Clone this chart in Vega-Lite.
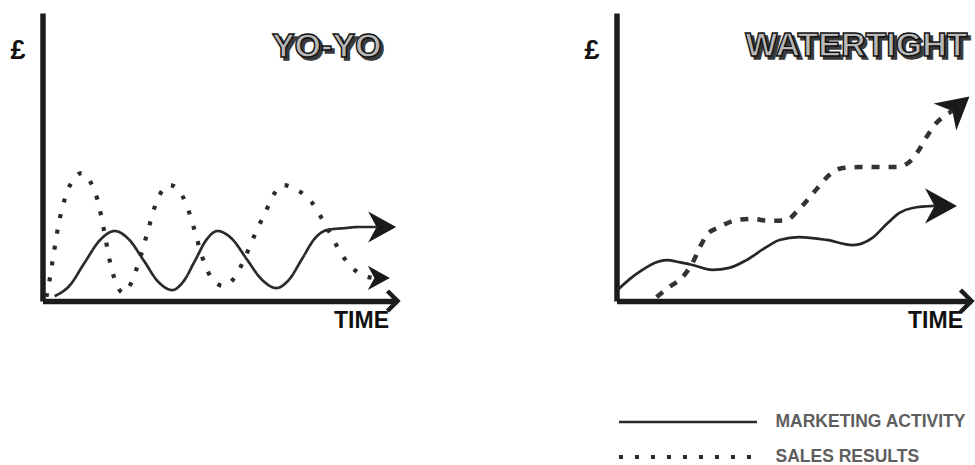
{
  "$schema": "https://vega.github.io/schema/vega-lite/v6.json",
  "padding": {"left": 9.5, "top": 13, "right": 0, "bottom": 0},
  "bounds": "flush",
  "spacing": 219,
  "background": "white",
  "config": {
    "view": {"stroke": null},
    "axis": {"domainColor": "#1c1c1c", "domainWidth": 5.5, "ticks": false, "labels": false, "grid": false, "titleFont": "Liberation Sans", "titleFontWeight": "bold", "titleColor": "#111111"},
    "axisX": {"titleFontSize": 23, "titleAlign": "right", "titleBaseline": "middle", "titleX": 346, "titleY": 19, "titleAngle": 0},
    "axisY": {"titleFontSize": 27, "titleAlign": "center", "titleBaseline": "middle", "titleX": -25, "titleY": 37, "titleAngle": 0}
  },
  "datasets": {
    "curves": [
      {"panel": "YO-YO", "series": "MARKETING ACTIVITY", "t": 3.4, "v": 1.7},
      {"panel": "YO-YO", "series": "MARKETING ACTIVITY", "t": 7.6, "v": 5.3},
      {"panel": "YO-YO", "series": "MARKETING ACTIVITY", "t": 11.8, "v": 13.2},
      {"panel": "YO-YO", "series": "MARKETING ACTIVITY", "t": 16.1, "v": 21.0},
      {"panel": "YO-YO", "series": "MARKETING ACTIVITY", "t": 20.3, "v": 24.3},
      {"panel": "YO-YO", "series": "MARKETING ACTIVITY", "t": 24.4, "v": 21.3},
      {"panel": "YO-YO", "series": "MARKETING ACTIVITY", "t": 28.5, "v": 14.1},
      {"panel": "YO-YO", "series": "MARKETING ACTIVITY", "t": 32.5, "v": 6.8},
      {"panel": "YO-YO", "series": "MARKETING ACTIVITY", "t": 36.6, "v": 3.8},
      {"panel": "YO-YO", "series": "MARKETING ACTIVITY", "t": 39.7, "v": 6.8},
      {"panel": "YO-YO", "series": "MARKETING ACTIVITY", "t": 43.0, "v": 14.1},
      {"panel": "YO-YO", "series": "MARKETING ACTIVITY", "t": 46.2, "v": 21.3},
      {"panel": "YO-YO", "series": "MARKETING ACTIVITY", "t": 49.3, "v": 24.3},
      {"panel": "YO-YO", "series": "MARKETING ACTIVITY", "t": 53.5, "v": 21.4},
      {"panel": "YO-YO", "series": "MARKETING ACTIVITY", "t": 57.6, "v": 14.4},
      {"panel": "YO-YO", "series": "MARKETING ACTIVITY", "t": 61.8, "v": 7.4},
      {"panel": "YO-YO", "series": "MARKETING ACTIVITY", "t": 65.9, "v": 4.5},
      {"panel": "YO-YO", "series": "MARKETING ACTIVITY", "t": 69.5, "v": 7.5},
      {"panel": "YO-YO", "series": "MARKETING ACTIVITY", "t": 73.1, "v": 14.6},
      {"panel": "YO-YO", "series": "MARKETING ACTIVITY", "t": 76.7, "v": 21.7},
      {"panel": "YO-YO", "series": "MARKETING ACTIVITY", "t": 80.3, "v": 24.7},
      {"panel": "YO-YO", "series": "MARKETING ACTIVITY", "t": 85.1, "v": 25.3},
      {"panel": "YO-YO", "series": "MARKETING ACTIVITY", "t": 89.3, "v": 25.7},
      {"panel": "YO-YO", "series": "MARKETING ACTIVITY", "t": 94.1, "v": 25.7},
      {"panel": "YO-YO", "series": "SALES RESULTS", "t": 1.1, "v": 1.4},
      {"panel": "YO-YO", "series": "SALES RESULTS", "t": 2.0, "v": 7.3},
      {"panel": "YO-YO", "series": "SALES RESULTS", "t": 3.1, "v": 16.0},
      {"panel": "YO-YO", "series": "SALES RESULTS", "t": 4.5, "v": 26.4},
      {"panel": "YO-YO", "series": "SALES RESULTS", "t": 6.2, "v": 35.1},
      {"panel": "YO-YO", "series": "SALES RESULTS", "t": 8.2, "v": 41.3},
      {"panel": "YO-YO", "series": "SALES RESULTS", "t": 11.0, "v": 44.4},
      {"panel": "YO-YO", "series": "SALES RESULTS", "t": 13.5, "v": 41.3},
      {"panel": "YO-YO", "series": "SALES RESULTS", "t": 15.5, "v": 35.1},
      {"panel": "YO-YO", "series": "SALES RESULTS", "t": 17.2, "v": 25.3},
      {"panel": "YO-YO", "series": "SALES RESULTS", "t": 18.9, "v": 14.2},
      {"panel": "YO-YO", "series": "SALES RESULTS", "t": 20.6, "v": 6.6},
      {"panel": "YO-YO", "series": "SALES RESULTS", "t": 22.8, "v": 2.8},
      {"panel": "YO-YO", "series": "SALES RESULTS", "t": 25.1, "v": 6.6},
      {"panel": "YO-YO", "series": "SALES RESULTS", "t": 27.3, "v": 14.2},
      {"panel": "YO-YO", "series": "SALES RESULTS", "t": 29.6, "v": 24.0},
      {"panel": "YO-YO", "series": "SALES RESULTS", "t": 31.8, "v": 33.3},
      {"panel": "YO-YO", "series": "SALES RESULTS", "t": 33.8, "v": 38.5},
      {"panel": "YO-YO", "series": "SALES RESULTS", "t": 35.8, "v": 40.3},
      {"panel": "YO-YO", "series": "SALES RESULTS", "t": 38.3, "v": 38.5},
      {"panel": "YO-YO", "series": "SALES RESULTS", "t": 40.6, "v": 33.3},
      {"panel": "YO-YO", "series": "SALES RESULTS", "t": 42.8, "v": 24.7},
      {"panel": "YO-YO", "series": "SALES RESULTS", "t": 45.1, "v": 14.9},
      {"panel": "YO-YO", "series": "SALES RESULTS", "t": 47.6, "v": 8.0},
      {"panel": "YO-YO", "series": "SALES RESULTS", "t": 51.0, "v": 5.2},
      {"panel": "YO-YO", "series": "SALES RESULTS", "t": 54.4, "v": 8.7},
      {"panel": "YO-YO", "series": "SALES RESULTS", "t": 57.2, "v": 15.6},
      {"panel": "YO-YO", "series": "SALES RESULTS", "t": 60.0, "v": 23.6},
      {"panel": "YO-YO", "series": "SALES RESULTS", "t": 62.8, "v": 30.9},
      {"panel": "YO-YO", "series": "SALES RESULTS", "t": 65.4, "v": 37.5},
      {"panel": "YO-YO", "series": "SALES RESULTS", "t": 67.6, "v": 40.3},
      {"panel": "YO-YO", "series": "SALES RESULTS", "t": 71.8, "v": 38.5},
      {"panel": "YO-YO", "series": "SALES RESULTS", "t": 75.8, "v": 34.4},
      {"panel": "YO-YO", "series": "SALES RESULTS", "t": 78.6, "v": 28.8},
      {"panel": "YO-YO", "series": "SALES RESULTS", "t": 81.4, "v": 22.6},
      {"panel": "YO-YO", "series": "SALES RESULTS", "t": 84.2, "v": 16.3},
      {"panel": "YO-YO", "series": "SALES RESULTS", "t": 87.3, "v": 11.5},
      {"panel": "YO-YO", "series": "SALES RESULTS", "t": 90.7, "v": 8.7},
      {"panel": "YO-YO", "series": "SALES RESULTS", "t": 93.5, "v": 8.0},
      {"panel": "WATERTIGHT", "series": "MARKETING ACTIVITY", "t": 0.3, "v": 3.8},
      {"panel": "WATERTIGHT", "series": "MARKETING ACTIVITY", "t": 3.7, "v": 7.6},
      {"panel": "WATERTIGHT", "series": "MARKETING ACTIVITY", "t": 7.3, "v": 10.8},
      {"panel": "WATERTIGHT", "series": "MARKETING ACTIVITY", "t": 10.7, "v": 13.2},
      {"panel": "WATERTIGHT", "series": "MARKETING ACTIVITY", "t": 14.1, "v": 14.2},
      {"panel": "WATERTIGHT", "series": "MARKETING ACTIVITY", "t": 17.7, "v": 13.5},
      {"panel": "WATERTIGHT", "series": "MARKETING ACTIVITY", "t": 21.4, "v": 12.5},
      {"panel": "WATERTIGHT", "series": "MARKETING ACTIVITY", "t": 27.0, "v": 10.8},
      {"panel": "WATERTIGHT", "series": "MARKETING ACTIVITY", "t": 31.8, "v": 11.5},
      {"panel": "WATERTIGHT", "series": "MARKETING ACTIVITY", "t": 36.6, "v": 14.2},
      {"panel": "WATERTIGHT", "series": "MARKETING ACTIVITY", "t": 42.3, "v": 18.8},
      {"panel": "WATERTIGHT", "series": "MARKETING ACTIVITY", "t": 45.9, "v": 21.2},
      {"panel": "WATERTIGHT", "series": "MARKETING ACTIVITY", "t": 51.5, "v": 22.2},
      {"panel": "WATERTIGHT", "series": "MARKETING ACTIVITY", "t": 59.2, "v": 21.2},
      {"panel": "WATERTIGHT", "series": "MARKETING ACTIVITY", "t": 66.5, "v": 19.4},
      {"panel": "WATERTIGHT", "series": "MARKETING ACTIVITY", "t": 72.1, "v": 21.9},
      {"panel": "WATERTIGHT", "series": "MARKETING ACTIVITY", "t": 76.1, "v": 26.7},
      {"panel": "WATERTIGHT", "series": "MARKETING ACTIVITY", "t": 79.7, "v": 30.6},
      {"panel": "WATERTIGHT", "series": "MARKETING ACTIVITY", "t": 83.4, "v": 32.3},
      {"panel": "WATERTIGHT", "series": "MARKETING ACTIVITY", "t": 89.6, "v": 33.0},
      {"panel": "WATERTIGHT", "series": "SALES RESULTS", "t": 11.3, "v": 1.4},
      {"panel": "WATERTIGHT", "series": "SALES RESULTS", "t": 14.9, "v": 4.9},
      {"panel": "WATERTIGHT", "series": "SALES RESULTS", "t": 18.6, "v": 8.3},
      {"panel": "WATERTIGHT", "series": "SALES RESULTS", "t": 21.4, "v": 13.2},
      {"panel": "WATERTIGHT", "series": "SALES RESULTS", "t": 23.4, "v": 18.4},
      {"panel": "WATERTIGHT", "series": "SALES RESULTS", "t": 25.4, "v": 22.9},
      {"panel": "WATERTIGHT", "series": "SALES RESULTS", "t": 29.0, "v": 25.7},
      {"panel": "WATERTIGHT", "series": "SALES RESULTS", "t": 33.8, "v": 28.1},
      {"panel": "WATERTIGHT", "series": "SALES RESULTS", "t": 38.3, "v": 28.5},
      {"panel": "WATERTIGHT", "series": "SALES RESULTS", "t": 43.1, "v": 27.8},
      {"panel": "WATERTIGHT", "series": "SALES RESULTS", "t": 47.9, "v": 28.1},
      {"panel": "WATERTIGHT", "series": "SALES RESULTS", "t": 50.7, "v": 30.9},
      {"panel": "WATERTIGHT", "series": "SALES RESULTS", "t": 53.8, "v": 35.1},
      {"panel": "WATERTIGHT", "series": "SALES RESULTS", "t": 56.6, "v": 39.2},
      {"panel": "WATERTIGHT", "series": "SALES RESULTS", "t": 60.0, "v": 43.8},
      {"panel": "WATERTIGHT", "series": "SALES RESULTS", "t": 63.7, "v": 46.2},
      {"panel": "WATERTIGHT", "series": "SALES RESULTS", "t": 68.5, "v": 46.5},
      {"panel": "WATERTIGHT", "series": "SALES RESULTS", "t": 74.1, "v": 46.5},
      {"panel": "WATERTIGHT", "series": "SALES RESULTS", "t": 78.9, "v": 46.5},
      {"panel": "WATERTIGHT", "series": "SALES RESULTS", "t": 82.5, "v": 48.3},
      {"panel": "WATERTIGHT", "series": "SALES RESULTS", "t": 84.8, "v": 51.7},
      {"panel": "WATERTIGHT", "series": "SALES RESULTS", "t": 87.3, "v": 56.9},
      {"panel": "WATERTIGHT", "series": "SALES RESULTS", "t": 90.1, "v": 61.8},
      {"panel": "WATERTIGHT", "series": "SALES RESULTS", "t": 92.4, "v": 64.2},
      {"panel": "WATERTIGHT", "series": "SALES RESULTS", "t": 94.6, "v": 66.0}
    ]
  },
  "hconcat": [
    {
      "width": 355,
      "height": 288,
      "data": {"name": "curves"},
      "transform": [{"filter": "datum.panel === 'YO-YO'"}],
      "encoding": {
        "x": {"field": "t", "type": "quantitative", "scale": {"domain": [0, 100], "nice": false, "zero": false}, "axis": {"title": "TIME"}},
        "y": {"field": "v", "type": "quantitative", "scale": {"domain": [0, 100], "nice": false, "zero": false}, "axis": {"title": "£"}}
      },
      "layer": [
        {
          "mark": {"type": "line", "interpolate": "monotone", "stroke": "#2a2a2a"},
          "encoding": {
            "strokeDash": {
              "field": "series", "type": "nominal",
              "scale": {"domain": ["MARKETING ACTIVITY", "SALES RESULTS"], "range": [[1, 0], [4, 12]]},
              "legend": {
                "orient": "none", "legendX": 574, "legendY": 394, "title": null,
                "symbolType": "stroke", "symbolSize": 19044, "symbolStrokeColor": "#2a2a2a", "symbolStrokeWidth": 3.5,
                "labelFont": "Liberation Sans", "labelFontWeight": "bold", "labelFontSize": 17.5, "labelColor": "#5e5e5e",
                "labelOffset": 16, "labelLimit": 320, "clipHeight": 30, "rowPadding": 5, "padding": 0
              }
            },
            "strokeWidth": {
              "field": "series", "type": "nominal",
              "scale": {"domain": ["MARKETING ACTIVITY", "SALES RESULTS"], "range": [2.7, 4.2]},
              "legend": null
            }
          }
        },
        {
          "transform": [
            {"filter": "datum.series === 'MARKETING ACTIVITY'"},
            {"joinaggregate": [{"op": "max", "field": "t", "as": "tmax"}]},
            {"filter": "datum.t === datum.tmax"}
          ],
          "mark": {"type": "point", "shape": "M1.4,0L-0.6,-1.1L0,0L-0.6,1.1Z", "size": 784, "filled": true, "color": "#1a1a1a", "opacity": 1, "angle": 0}
        },
        {
          "transform": [
            {"filter": "datum.series === 'SALES RESULTS'"},
            {"joinaggregate": [{"op": "max", "field": "t", "as": "tmax"}]},
            {"filter": "datum.t === datum.tmax"}
          ],
          "mark": {"type": "point", "shape": "M1.4,0L-0.6,-1.1L0,0L-0.6,1.1Z", "size": 484, "filled": true, "color": "#1a1a1a", "opacity": 1, "angle": 0}
        },
        {
          "transform": [
            {"filter": "datum.series === 'MARKETING ACTIVITY'"},
            {"joinaggregate": [{"op": "max", "field": "t", "as": "tmax"}]},
            {"filter": "datum.t === datum.tmax"}
          ],
          "mark": {"type": "point", "shape": "M-1,-1L0,0L-1,1", "size": 400, "filled": false, "stroke": "#1c1c1c", "strokeWidth": 4.5, "opacity": 1},
          "encoding": {"x": {"datum": 100}, "y": {"datum": 0}}
        },
        {
          "transform": [
            {"filter": "datum.series === 'MARKETING ACTIVITY'"},
            {"joinaggregate": [{"op": "max", "field": "t", "as": "tmax"}]},
            {"filter": "datum.t === datum.tmax"}
          ],
          "mark": {"type": "text", "align": "right", "baseline": "middle", "font": "Liberation Sans", "fontWeight": "bold", "fontSize": 34, "fill": "#3a3a3a", "stroke": "#3a3a3a", "strokeWidth": 1.4, "dx": 3, "dy": 3},
          "encoding": {"x": {"datum": 95.5}, "y": {"datum": 88.2}, "text": {"field": "panel"}}
        },
        {
          "transform": [
            {"filter": "datum.series === 'MARKETING ACTIVITY'"},
            {"joinaggregate": [{"op": "max", "field": "t", "as": "tmax"}]},
            {"filter": "datum.t === datum.tmax"}
          ],
          "mark": {"type": "text", "align": "right", "baseline": "middle", "font": "Liberation Sans", "fontWeight": "bold", "fontSize": 34, "fill": "#b8b8b8", "stroke": "#111111", "strokeWidth": 1.4},
          "encoding": {"x": {"datum": 95.5}, "y": {"datum": 88.2}, "text": {"field": "panel"}}
        }
      ]
    },
    {
      "width": 355,
      "height": 288,
      "data": {"name": "curves"},
      "transform": [{"filter": "datum.panel === 'WATERTIGHT'"}],
      "encoding": {
        "x": {"field": "t", "type": "quantitative", "scale": {"domain": [0, 100], "nice": false, "zero": false}, "axis": {"title": "TIME"}},
        "y": {"field": "v", "type": "quantitative", "scale": {"domain": [0, 100], "nice": false, "zero": false}, "axis": {"title": "£"}}
      },
      "layer": [
        {
          "transform": [{"filter": "datum.series === 'MARKETING ACTIVITY'"}],
          "mark": {"type": "line", "interpolate": "monotone", "stroke": "#262626", "strokeWidth": 2.7}
        },
        {
          "transform": [{"filter": "datum.series === 'SALES RESULTS'"}],
          "mark": {"type": "line", "interpolate": "monotone", "stroke": "#333333", "strokeWidth": 4.5, "strokeDash": [8, 9]}
        },
        {
          "transform": [
            {"filter": "datum.series === 'MARKETING ACTIVITY'"},
            {"joinaggregate": [{"op": "max", "field": "t", "as": "tmax"}]},
            {"filter": "datum.t === datum.tmax"}
          ],
          "mark": {"type": "point", "shape": "M1.4,0L-0.6,-1.1L0,0L-0.6,1.1Z", "size": 1024, "filled": true, "color": "#1a1a1a", "opacity": 1, "angle": 0}
        },
        {
          "transform": [
            {"filter": "datum.series === 'SALES RESULTS'"},
            {"joinaggregate": [{"op": "max", "field": "t", "as": "tmax"}]},
            {"filter": "datum.t === datum.tmax"}
          ],
          "mark": {"type": "point", "shape": "M1.4,0L-0.6,-1.1L0,0L-0.6,1.1Z", "size": 1024, "filled": true, "color": "#1a1a1a", "opacity": 1, "angle": -40}
        },
        {
          "transform": [
            {"filter": "datum.series === 'MARKETING ACTIVITY'"},
            {"joinaggregate": [{"op": "max", "field": "t", "as": "tmax"}]},
            {"filter": "datum.t === datum.tmax"}
          ],
          "mark": {"type": "point", "shape": "M-1,-1L0,0L-1,1", "size": 484, "filled": false, "stroke": "#1c1c1c", "strokeWidth": 4.5, "opacity": 1},
          "encoding": {"x": {"datum": 100}, "y": {"datum": 0}}
        },
        {
          "transform": [
            {"filter": "datum.series === 'MARKETING ACTIVITY'"},
            {"joinaggregate": [{"op": "max", "field": "t", "as": "tmax"}]},
            {"filter": "datum.t === datum.tmax"}
          ],
          "mark": {"type": "text", "align": "right", "baseline": "middle", "font": "Liberation Sans", "fontWeight": "bold", "fontSize": 34, "fill": "#3a3a3a", "stroke": "#3a3a3a", "strokeWidth": 1.4, "dx": 3, "dy": 3},
          "encoding": {"x": {"datum": 98.9}, "y": {"datum": 88.6}, "text": {"field": "panel"}}
        },
        {
          "transform": [
            {"filter": "datum.series === 'MARKETING ACTIVITY'"},
            {"joinaggregate": [{"op": "max", "field": "t", "as": "tmax"}]},
            {"filter": "datum.t === datum.tmax"}
          ],
          "mark": {"type": "text", "align": "right", "baseline": "middle", "font": "Liberation Sans", "fontWeight": "bold", "fontSize": 34, "fill": "#b8b8b8", "stroke": "#111111", "strokeWidth": 1.4},
          "encoding": {"x": {"datum": 98.9}, "y": {"datum": 88.6}, "text": {"field": "panel"}}
        }
      ]
    }
  ]
}
